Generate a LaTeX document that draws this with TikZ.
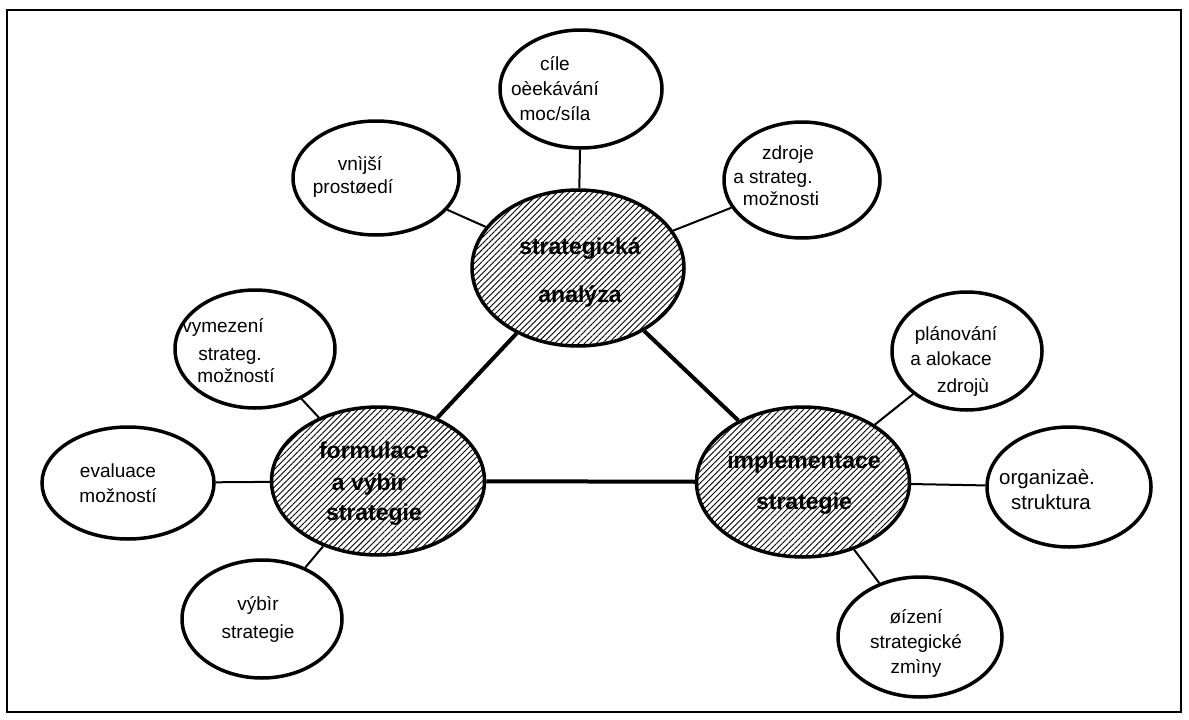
\documentclass[tikz,border=0pt]{standalone}
\usepackage{fontspec}
\setmainfont{Liberation Sans}
\usetikzlibrary{shapes.geometric,patterns.meta}
\tikzset{
  sat/.style={ellipse,draw,line width=3.5pt,fill=white,inner sep=0pt},
  hub/.style={ellipse,draw,line width=3.5pt,inner sep=0pt,
    postaction={pattern={Lines[angle=45,distance=4.2pt,line width=0.9pt]}}},
  lbl/.style={align=center,inner sep=0pt,font=\fontsize{19}{25}\selectfont},
  hublbl/.style={align=center,inner sep=0pt,font=\fontsize{23}{32}\selectfont\bfseries},
  thinlink/.style={line width=2pt},
  thicklink/.style={line width=4pt},
  frame/.style={line width=1.6pt}
}
\begin{document}
\begin{tikzpicture}[x=1pt,y=-1pt]
\useasboundingbox (0,0) rectangle (1189,720);
\coordinate (fa) at (7,10);
\coordinate (fb) at (1181,712);
\draw[frame] (fa) rectangle (fb);
% hubs
\node[hub,minimum width=212pt,minimum height=156pt] (sa) at (578,268) {};
\node[hub,minimum width=213pt,minimum height=148pt] (form) at (378,481) {};
\node[hub,minimum width=213pt,minimum height=150pt] (impl) at (803,482) {};
% satellites
\node[sat,minimum width=162pt,minimum height=118pt] (cile) at (581,89) {};
\node[sat,minimum width=166pt,minimum height=114pt] (vnej) at (376,178) {};
\node[sat,minimum width=156pt,minimum height=116pt] (zdroje) at (802,180) {};
\node[sat,minimum width=160pt,minimum height=118pt] (vymez) at (255,349) {};
\node[sat,minimum width=172pt,minimum height=112pt] (eval) at (128,483) {};
\node[sat,minimum width=160pt,minimum height=118pt] (vybir) at (262,619) {};
\node[sat,minimum width=150pt,minimum height=118pt] (plan) at (967,351) {};
\node[sat,minimum width=164pt,minimum height=120pt] (org) at (1069,487) {};
\node[sat,minimum width=164pt,minimum height=120pt] (rizeni) at (920,637) {};
% satellite texts
\node[lbl] (tcile) at (555,89) {c\'ile\\o\`eek\'av\'an\'i\\moc/s\'ila};
\node[lbl] (tvnej) at (353,177) {\hspace*{14pt}vn\`ij\v{s}\'i\\[-2pt]prost\o{}ed\'i};
\node[lbl] (tzdroje) at (773,176) {\hspace*{30pt}zdroje\\[-1pt]a strateg.\\[-3pt]\hspace*{16pt}mo\v{z}nosti};
\node[lbl] (tvymez) at (230,351) {\hspace*{-14pt}vymezen\'i\\[3pt]strateg.\\[-3pt]\hspace*{12pt}mo\v{z}nost\'i};
\node[lbl] (teval) at (118,483) {evaluace\\mo\v{z}nost\'i};
\node[lbl] (tvybir) at (258,619) {v\'yb\`ir\\[3pt]strategie};
\node[lbl] (tplan) at (956,361) {pl\'anov\'an\'i\\\hspace*{-10pt}a alokace\\[2pt]\hspace*{14pt}zdroj\`u};
\node[lbl,font=\fontsize{20.5}{25}\selectfont] (torg) at (1049,490) {\hspace*{-4pt}organiza\`e.\\\hspace*{4pt}struktura};
\node[lbl] (trizeni) at (916,643) {\o{}\'izen\'i\\strategick\'e\\zm\`iny};
% hub texts
\node[hublbl] (tsa) at (580,272) {strategick\'a\\[16pt]anal\'yza};
\node[hublbl] (tform) at (374,484) {formulace\\\hspace*{-10pt}a v\'yb\`ir\\[-2pt]strategie};
\node[hublbl] (timpl) at (804,483) {implementace\\[9pt]strategie};
% links
\draw[thicklink] (sa) -- (form);
\draw[thicklink] (sa) -- (impl);
\draw[thicklink] (form) -- (impl);
\draw[thinlink] (cile) -- (sa);
\draw[thinlink] (vnej) -- (sa);
\draw[thinlink] (zdroje) -- (sa);
\draw[thinlink] (vymez) -- (form);
\draw[thinlink] (eval) -- (form);
\draw[thinlink] (vybir) -- (form);
\draw[thinlink] (plan) -- (impl);
\draw[thinlink] (org) -- (impl);
\draw[thinlink] (rizeni) -- (impl);
\end{tikzpicture}
\end{document}
